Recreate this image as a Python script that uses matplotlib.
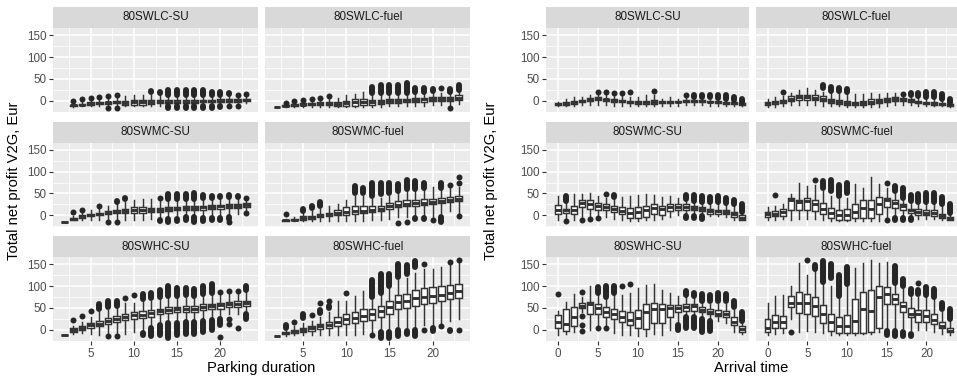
import matplotlib
matplotlib.use("Agg")
import matplotlib.pyplot as plt
from matplotlib.ticker import MultipleLocator

plt.rcParams["font.family"] = ["Liberation Sans", "DejaVu Sans"]

# ---------------------------------------------------------------------------
# Box statistics: (lower whisker, Q1, median, Q3, upper whisker) per x value.
# None means no observations at that x.
# Outlier runs: (x, lowest, highest) - a stack of points between the two values.
# ---------------------------------------------------------------------------
duration = list(range(2, 24))
arrival = list(range(0, 24))

dur_LC_SU = [None,
    (-14, -12, -11, -9, -5), (-13, -11, -9, -7, -2), (-13, -9, -7, -4, 0), (-13, -8, -5, -3, 3),
    (-13, -7, -4, -2, 4), (-13, -6, -4, -1, 6), (-13, -9, -5, 0, 10), (-13, -9, -4, 1, 12),
    (-13, -9, -3, 2, 14), (-12, -7, -2, 2, 12), (-12, -6, -2, 2, 12), (-10, -5, -2, 1, 9),
    (-10, -5, -2, 1, 9), (-10, -5, -2, 1, 9), (-10, -5, -2, 1, 9), (-10, -4, -1, 2, 9),
    (-10, -4, -1, 2, 9), (-9, -3, 0, 3, 10), (-9, -3, 0, 3, 10), (-8, -2, 1, 4, 10),
    (-6, -1, 2, 5, 11)]
dur_LC_SU_out = [(3, -1, -1), (4, 3, 3), (5, 6, 6), (6, 9, 9), (7, 11, 11), (7, -17, -17),
    (8, 13, 13), (8, -17, -17), (12, 20, 22), (13, 18, 20), (14, 14, 24), (14, -16, -12),
    (15, 13, 25), (15, -17, -12), (16, 13, 25), (16, -17, -12), (17, 12, 25), (17, -17, -12),
    (18, 12, 24), (18, -17, -12), (19, 12, 21), (19, -17, -12), (20, 14, 19), (20, -15, -12),
    (21, 15, 18), (21, -13, -13), (22, 13, 13), (22, -12, -12), (23, 15, 15)]

dur_LC_fuel = [(-15, -15, -15, -15, -15),
    (-14, -13, -12, -11, -9), (-14, -12, -10, -8, -5), (-14, -11, -9, -6, -2), (-14, -10, -8, -5, 0),
    (-14, -10, -7, -4, 1), (-14, -10, -7, -3, 4), (-14, -12, -8, -2, 7), (-14, -12, -6, 0, 12),
    (-14, -12, -4, 3, 16), (-14, -10, -4, 3, 20), (-14, -10, -4, 1, 12), (-14, -8, -3, 2, 12),
    (-12, -6, -1, 4, 14), (-12, -5, 0, 4, 15), (-12, -4, 1, 5, 16), (-12, -3, 2, 6, 16),
    (-12, -2, 3, 7, 17), (-10, -1, 4, 8, 18), (-10, 0, 5, 9, 18), (-10, 0, 5, 9, 20),
    (-8, 2, 7, 12, 22)]
dur_LC_fuel_out = [(3, -5, -5), (4, -1, -1), (5, 2, 2), (6, 5, 5), (7, 7, 7), (8, 10, 10),
    (13, 17, 32), (14, 17, 37), (15, 18, 37), (16, 18, 37), (17, 18, 40), (18, 20, 28),
    (19, 21, 28), (20, 22, 26), (21, 28, 28), (22, 21, 26), (22, -16, -16), (23, 25, 37)]

dur_MC_SU = [(-16, -16, -16, -16, -16),
    (-12, -10, -8, -6, -2), (-10, -6, -3, 0, 8), (-10, -3, 0, 2, 12), (-10, 0, 3, 6, 16),
    (-12, 2, 6, 10, 22), (-12, 4, 8, 12, 25), (-10, 5, 10, 15, 30), (-10, 5, 12, 18, 35),
    (-10, 4, 12, 18, 37), (-8, 8, 12, 16, 37), (-8, 8, 13, 17, 32), (-5, 10, 14, 18, 32),
    (-4, 11, 15, 19, 33), (-3, 11, 16, 20, 34), (-3, 12, 17, 21, 35), (-2, 13, 18, 22, 35),
    (-2, 14, 19, 23, 36), (0, 15, 20, 24, 37), (0, 16, 21, 25, 37), (2, 17, 22, 26, 38),
    (8, 18, 23, 27, 36)]
dur_MC_SU_out = [(3, 8, 8), (4, 13, 13), (6, 22, 22), (7, 27, 29), (7, -15, -15), (8, 30, 32),
    (8, -15, -15), (9, 38, 40), (13, 40, 40), (13, -14, -12), (14, 38, 48), (14, -15, -8),
    (15, 38, 48), (15, -13, -8), (16, 38, 48), (16, -12, -5), (17, 38, 50), (17, -15, -5),
    (18, 39, 47), (18, -13, -6), (19, 40, 45), (19, -12, -6), (20, 42, 45), (20, -11, -6),
    (21, 41, 46), (21, -9, -4), (21, -16, -16), (22, 42, 45), (23, 40, 40), (23, 4, 4)]

dur_MC_fuel = [None,
    (-14, -13, -12, -11, -8), (-14, -12, -11, -9, -5), (-13, -10, -6, -3, 4), (-13, -9, -5, -1, 10),
    (-13, -5, -2, 2, 15), (-13, -2, 2, 6, 20), (-14, 0, 5, 12, 25), (-13, 0, 8, 18, 35),
    (-13, 3, 10, 22, 45), (-13, 5, 10, 22, 45), (-12, 8, 13, 20, 38), (-10, 10, 15, 22, 40),
    (-8, 15, 20, 27, 45), (-5, 18, 24, 32, 50), (-5, 20, 26, 35, 55), (-3, 22, 28, 36, 55),
    (0, 24, 29, 37, 58), (-5, 25, 30, 38, 64), (5, 28, 33, 40, 58), (10, 30, 35, 42, 62),
    (5, 32, 37, 44, 65)]
dur_MC_fuel_out = [(3, 2, 2), (5, 10, 14), (6, 16, 21), (7, 22, 30), (11, 52, 66), (12, 50, 62),
    (13, 45, 75), (14, 48, 75), (15, 52, 75), (16, 55, 72), (16, -18, -18), (17, 60, 80),
    (17, -15, -15), (18, 60, 78), (18, -9, -7), (19, 62, 75), (19, -9, -7), (20, -12, -12),
    (21, 62, 75), (21, -15, -5), (22, 70, 70), (23, 75, 75), (23, 88, 88), (23, -2, -2)]

dur_HC_SU = [(-13, -13, -13, -13, -13),
    (-10, -5, -1, 3, 8), (-8, 0, 5, 9, 18), (-10, 5, 10, 16, 30), (-13, 8, 14, 20, 40),
    (-10, 13, 20, 26, 45), (-10, 17, 24, 31, 50), (-10, 22, 30, 37, 62), (-5, 24, 34, 41, 62),
    (0, 26, 34, 43, 65), (8, 30, 38, 45, 67), (15, 35, 42, 48, 70), (18, 38, 45, 52, 72),
    (20, 40, 47, 53, 72), (22, 40, 48, 54, 73), (22, 40, 48, 54, 73), (25, 45, 52, 58, 78),
    (28, 47, 54, 60, 80), (30, 48, 56, 62, 82), (35, 52, 59, 64, 82), (37, 53, 60, 65, 83),
    (40, 55, 61, 67, 88)]
dur_HC_SU_out = [(3, 22, 22), (4, 32, 32), (5, 43, 43), (6, 48, 60), (7, 52, 67), (7, -14, -14),
    (8, 55, 67), (8, -14, -14), (9, 72, 72), (10, 79, 79), (11, 70, 82), (11, -12, -7),
    (12, 72, 85), (12, -15, 5), (13, 75, 92), (13, -12, 10), (14, 78, 100), (14, -18, 15),
    (15, 78, 96), (15, -12, 15), (16, 80, 95), (16, -10, 17), (17, 78, 93), (17, -10, 18),
    (18, 82, 100), (18, -5, 20), (19, 85, 106), (19, 0, 22), (20, 86, 86), (20, 10, 25),
    (20, -16, -16), (21, 88, 88), (21, 25, 25), (21, 12, 12), (22, 90, 90), (22, 28, 30),
    (22, 3, 3), (23, 92, 100), (23, 25, 35)]

dur_HC_fuel = [(-14, -14, -14, -14, -14),
    (-14, -11, -8, -6, -2), (-13, -8, -4, -1, 8), (-12, -5, -1, 3, 15), (-12, -2, 3, 8, 20),
    (-12, 2, 8, 14, 30), (-12, 5, 10, 18, 40), (-12, 8, 17, 28, 65), (-12, 12, 25, 37, 65),
    (-12, 15, 27, 40, 78), (-10, 20, 32, 47, 88), (-5, 22, 35, 48, 68), (-3, 30, 42, 55, 80),
    (0, 37, 52, 65, 95), (0, 48, 63, 80, 115), (5, 50, 65, 83, 118), (5, 55, 72, 92, 130),
    (10, 60, 76, 95, 140), (10, 62, 78, 97, 140), (15, 66, 80, 100, 145), (20, 70, 84, 102, 150),
    (25, 72, 88, 104, 155)]
dur_HC_fuel_out = [(3, 5, 10), (4, 18, 18), (5, 27, 35), (6, 33, 33), (7, 38, 46), (7, 62, 62),
    (8, 50, 55), (8, 65, 65), (10, 85, 85), (13, 75, 115), (13, -12, -12), (14, 85, 128),
    (14, -18, -5), (15, 100, 128), (15, -20, -5), (16, 122, 152), (16, -15, 0), (17, 128, 148),
    (17, -10, -2), (18, 145, 158), (18, -15, 0), (19, 152, 152), (19, 0, 0), (20, -3, 3),
    (21, 8, 8), (22, 155, 155), (22, -3, -1), (23, 160, 160), (23, 0, 0)]

arr_LC_SU = [(-12, -10, -8, -6, -4), (-13, -10, -7, -3, 5), (-13, -8, -3, 0, 8), (-10, -2, 0, 2, 8),
    (-10, 0, 3, 6, 12), (-10, 2, 5, 8, 14), (-10, 0, 3, 5, 12), (-12, -2, 1, 4, 10),
    (-12, -4, -1, 2, 10), (-12, -6, -3, 0, 8), (-12, -8, -4, -1, 8), (-12, -8, -4, 0, 12),
    (-12, -8, -3, 2, 12), (-12, -6, -3, 0, 5), (-12, -5, -2, 0, 8), (-12, -4, -2, 0, 5),
    (-10, -3, -1, 1, 6), (-10, -2, 0, 2, 6), (-10, -2, 0, 2, 6), (-12, -4, -2, 0, 5),
    (-12, -5, -3, -1, 4), (-12, -7, -5, -3, 2), (-12, -8, -6, -4, 0), (-13, -10, -8, -6, -4)]
arr_LC_SU_out = [(5, 20, 20), (6, 20, 20), (7, 18, 18), (8, 18, 18), (9, 20, 20), (12, 22, 22),
    (16, 12, 12), (17, 9, 12), (18, 9, 12), (19, 8, 14), (20, 7, 14), (21, 5, 12),
    (22, 2, 9), (23, -2, 4)]

arr_LC_fuel = [(-14, -10, -6, -2, 5), (-14, -8, -4, 0, 8), (-12, -5, -1, 2, 10), (-10, 0, 5, 10, 18),
    (-10, 2, 8, 14, 25), (-10, 2, 8, 14, 30), (-10, 2, 7, 12, 25), (-12, 0, 5, 10, 20),
    (-12, -5, 0, 5, 18), (-12, -8, -3, 2, 18), (-14, -10, -5, -1, 15), (-14, -10, -6, -2, 15),
    (-14, -10, -5, 0, 15), (-14, -8, -3, 3, 18), (-14, -5, -1, 5, 15), (-12, -3, 2, 6, 18),
    (-10, -1, 3, 8, 18), (-10, 0, 3, 6, 12), (-10, -2, 1, 4, 10), (-12, -5, -2, 0, 8),
    (-12, -8, -5, -3, 5), (-13, -9, -6, -4, 4), (-13, -10, -8, -6, 2), (-14, -12, -10, -8, -6)]
arr_LC_fuel_out = [(2, 20, 20), (7, 30, 37), (8, 22, 31), (9, 22, 30), (10, 20, 27), (17, 16, 16),
    (18, 12, 18), (19, 10, 18), (20, 8, 20), (21, 8, 20), (22, 5, 15), (23, -5, 5)]

arr_MC_SU = [(-10, 2, 13, 23, 44), (-10, 5, 11, 15, 28), (-12, 2, 13, 21, 48), (-5, 18, 28, 34, 48),
    (-5, 15, 25, 34, 52), (-3, 13, 21, 28, 44), (-5, 12, 19, 25, 40), (-8, 8, 15, 21, 38),
    (-12, 2, 9, 18, 42), (-14, -6, 5, 17, 44), (-14, -6, 8, 18, 46), (-12, -5, 13, 21, 48),
    (-10, 3, 17, 25, 46), (-8, 0, 15, 21, 42), (-5, 9, 18, 25, 44), (0, 13, 18, 25, 40),
    (2, 13, 19, 25, 36), (2, 13, 17, 22, 34), (-1, 9, 15, 18, 30), (-2, 3, 9, 15, 28),
    (-3, 3, 9, 13, 26), (-4, 2, 8, 13, 26), (-10, -5, 2, 8, 22), (-12, -10, -6, 0, 6)]
arr_MC_SU_out = [(1, 32, 44), (1, -14, -14), (3, -10, -10), (4, -8, -8), (5, -6, -6), (6, 49, 49),
    (7, 42, 46), (16, 38, 46), (16, -6, -2), (17, 32, 46), (17, -6, -2), (18, 31, 44),
    (18, -8, -2), (19, 30, 42), (20, 30, 44), (21, 28, 40), (22, 25, 34), (23, 8, 25)]

arr_MC_fuel = [(-12, -5, 2, 8, 18), (-10, -3, 3, 9, 20), (-8, -2, 8, 15, 25), (-10, 11, 34, 40, 48),
    (-8, 11, 31, 36, 75), (-8, 11, 32, 40, 67), (-8, 9, 25, 36, 70), (-10, 3, 15, 28, 55),
    (-14, -6, 5, 17, 45), (-14, -10, 0, 13, 38), (-14, -10, 0, 15, 40), (-14, -6, 8, 26, 71),
    (-14, -6, 17, 36, 63), (-14, -6, 15, 36, 88), (-14, 2, 26, 42, 71), (-5, 18, 35, 40, 63),
    (-3, 17, 28, 34, 50), (0, 13, 21, 26, 38), (-3, 5, 13, 15, 28), (-8, 0, 8, 15, 28),
    (-8, 0, 5, 13, 28), (-8, -2, 5, 13, 28), (-10, -6, -1, 3, 20), (-12, -11, -8, -5, 2)]
arr_MC_fuel_out = [(1, 47, 47), (6, 80, 80), (7, 62, 78), (8, 55, 80), (9, 44, 70), (10, 52, 73),
    (15, 75, 75), (15, -12, -12), (16, 55, 68), (16, -12, -6), (17, 40, 63), (17, -12, -6),
    (18, 32, 46), (18, -12, -6), (19, 31, 49), (20, 31, 50), (21, 31, 50), (22, 25, 42),
    (23, 5, 25)]

arr_HC_SU = [(-12, 5, 18, 33, 43), (-10, -2, 14, 47, 64), (-5, 9, 30, 51, 81), (40, 49, 55, 61, 75),
    (0, 36, 59, 64, 100), (10, 36, 49, 59, 80), (10, 28, 41, 51, 72), (-8, 24, 36, 47, 80),
    (-12, 17, 28, 43, 80), (-12, 11, 23, 41, 85), (-14, 5, 26, 46, 95), (-14, 2, 40, 59, 103),
    (-10, 15, 47, 62, 105), (-12, 15, 47, 59, 92), (0, 28, 49, 56, 85), (15, 40, 49, 56, 78),
    (30, 43, 53, 59, 75), (33, 43, 55, 59, 75), (30, 40, 46, 51, 62), (25, 36, 41, 47, 60),
    (20, 32, 37, 46, 60), (15, 28, 36, 44, 60), (-5, 11, 17, 28, 45), (-10, -5, 2, 8, 17)]
arr_HC_SU_out = [(0, 81, 81), (3, 87, 87), (3, 32, 32), (3, 11, 11), (3, -3, -3), (5, 85, 97),
    (5, 3, 3), (6, 74, 100), (6, 3, 3), (7, 85, 100), (8, 100, 100), (9, 104, 104),
    (15, 0, 11), (16, 80, 90), (16, 5, 28), (17, 77, 85), (17, 5, 28), (18, 66, 81),
    (18, -5, 25), (19, 67, 80), (19, -3, 20), (20, 67, 85), (21, 67, 82), (22, 51, 66),
    (23, 20, 40)]

arr_HC_fuel = [(-12, -6, 5, 24, 62), (-10, 3, 18, 33, 78), (-8, 5, 18, 32, 80), (25, 51, 61, 78, 100),
    (-5, 38, 62, 87, 154), (-3, 36, 62, 81, 125), (-5, 32, 55, 74, 135), (-8, 15, 36, 56, 105),
    (-12, -2, 17, 36, 100), (-12, -8, 9, 28, 75), (-12, -8, 9, 33, 100), (-12, -8, 21, 70, 142),
    (-10, -8, 47, 87, 154), (-10, -6, 43, 91, 160), (-5, 5, 74, 100, 154), (0, 59, 81, 99, 155),
    (5, 59, 70, 81, 105), (5, 40, 55, 64, 95), (0, 28, 36, 49, 78), (0, 17, 36, 46, 75),
    (0, 17, 32, 46, 75), (-5, 13, 23, 36, 70), (-10, 3, 9, 17, 40), (-12, -6, -2, 3, 20)]
arr_HC_fuel_out = [(3, -6, -6), (5, 160, 160), (6, 139, 148), (7, 110, 158), (8, 119, 152),
    (9, 78, 125), (10, 104, 143), (15, -12, -3), (16, 108, 146), (16, -14, -3), (17, 100, 116),
    (17, -15, -6), (18, 81, 93), (18, -14, -10), (19, 81, 92), (19, 108, 108), (20, 80, 98),
    (21, 74, 93), (22, 47, 62), (23, 24, 48)]

facet_titles = [["80SWLC-SU", "80SWLC-fuel"],
                ["80SWMC-SU", "80SWMC-fuel"],
                ["80SWHC-SU", "80SWHC-fuel"]]
y_label = "Total net profit V2G, Eur"
x_label_left = "Parking duration"
x_label_right = "Arrival time"
y_ticks = [0, 50, 100, 150]

left_panels = [[(dur_LC_SU, dur_LC_SU_out), (dur_LC_fuel, dur_LC_fuel_out)],
               [(dur_MC_SU, dur_MC_SU_out), (dur_MC_fuel, dur_MC_fuel_out)],
               [(dur_HC_SU, dur_HC_SU_out), (dur_HC_fuel, dur_HC_fuel_out)]]
right_panels = [[(arr_LC_SU, arr_LC_SU_out), (arr_LC_fuel, arr_LC_fuel_out)],
                [(arr_MC_SU, arr_MC_SU_out), (arr_MC_fuel, arr_MC_fuel_out)],
                [(arr_HC_SU, arr_HC_SU_out), (arr_HC_fuel, arr_HC_fuel_out)]]

# ---------------------------------------------------------------------------
W, H = 957, 383
fig = plt.figure(figsize=(W / 100, H / 100), dpi=100)
fig.patch.set_facecolor("white")

PANEL_BG = "#EBEBEB"
STRIP_BG = "#D9D9D9"
LINE = "#333333"
POINT = "#262626"
TICK_TXT = "#4D4D4D"
FS_TICK = 8.4
FS_TITLE = 10.6

strip_tops = [7, 121.5, 236]
STRIP_H = 21
PANEL_H = 84


def px_axes(x0, y0, x1, y1):
    return fig.add_axes([x0 / W, 1 - y1 / H, (x1 - x0) / W, (y1 - y0) / H])


def draw_panel(ax, xs, stats, outs, xlim, xmajor, show_x, show_y):
    ax.set_facecolor(PANEL_BG)
    for s in ax.spines.values():
        s.set_visible(False)
    ax.set_xlim(*xlim)
    ax.set_ylim(-26, 167)
    ax.xaxis.set_major_locator(MultipleLocator(xmajor))
    ax.xaxis.set_minor_locator(MultipleLocator(xmajor / 2))
    ax.set_yticks(y_ticks)
    ax.yaxis.set_minor_locator(MultipleLocator(25))
    ax.grid(which="major", color="white", lw=1.1)
    ax.grid(which="minor", color="white", lw=0.55)
    ax.set_axisbelow(True)
    ax.tick_params(which="minor", length=0)
    ax.tick_params(which="major", length=3.2, width=0.8, color=LINE,
                   labelcolor=TICK_TXT, labelsize=FS_TICK, pad=1.5)
    if not show_x:
        ax.tick_params(axis="x", which="major", length=0, labelbottom=False)
    if not show_y:
        ax.tick_params(axis="y", which="major", length=0, labelleft=False)

    bstats, pos = [], []
    for x, st in zip(xs, stats):
        if st is None:
            continue
        lo, q1, med, q3, hi = st
        bstats.append(dict(whislo=lo, q1=q1, med=med, q3=q3, whishi=hi, fliers=[]))
        pos.append(x)
    ax.bxp(bstats, positions=pos, widths=0.75, showcaps=False, showfliers=False,
           patch_artist=True, manage_ticks=False,
           boxprops=dict(facecolor="white", edgecolor=LINE, linewidth=1.05),
           whiskerprops=dict(color=LINE, linewidth=1.05),
           medianprops=dict(color=LINE, linewidth=2.1, solid_capstyle="butt"))

    for x, a, b in outs:
        if a == b:
            ax.plot([x], [a], "o", ms=4.3, color=POINT, mew=0, zorder=4)
        else:
            ax.plot([x, x], [a, b], color=POINT, lw=4.3,
                    solid_capstyle="round", zorder=4)


def draw_strip(x0, x1, y0, text):
    sax = px_axes(x0, y0, x1, y0 + STRIP_H)
    sax.set_facecolor(STRIP_BG)
    for s in sax.spines.values():
        s.set_visible(False)
    sax.set_xticks([])
    sax.set_yticks([])
    sax.text(0.5, 0.5, text, ha="center", va="center", fontsize=FS_TICK,
             color="#1A1A1A", transform=sax.transAxes)


def draw_group(cols, panels, xs, xlim, xmajor, xlabel, ylabel_x):
    for r in range(3):
        for c in range(2):
            x0, x1 = cols[c]
            top = strip_tops[r]
            draw_strip(x0, x1, top, facet_titles[r][c])
            ax = px_axes(x0, top + STRIP_H, x1, top + STRIP_H + PANEL_H)
            st, outs = panels[r][c]
            draw_panel(ax, xs, st, outs, xlim, xmajor, show_x=(r == 2), show_y=(c == 0))
    bottom = strip_tops[2] + STRIP_H + PANEL_H
    cx = (cols[0][0] + cols[1][1]) / 2
    fig.text(cx / W, 1 - (bottom + 27) / H, xlabel, ha="center", va="center",
             fontsize=FS_TITLE, color="black")
    fig.text(ylabel_x / W, 1 - 181 / H, y_label, ha="center", va="center",
             rotation=90, fontsize=FS_TITLE, color="black")


draw_group([(53, 258), (265.3, 470.3)], left_panels, duration,
           (0.65, 24.35), 5, x_label_left, 14)
draw_group([(546, 749), (756, 957)], right_panels, arrival,
           (-1.45, 23.85), 5, x_label_right, 491)

fig.savefig("out.png", dpi=100, facecolor="white")
